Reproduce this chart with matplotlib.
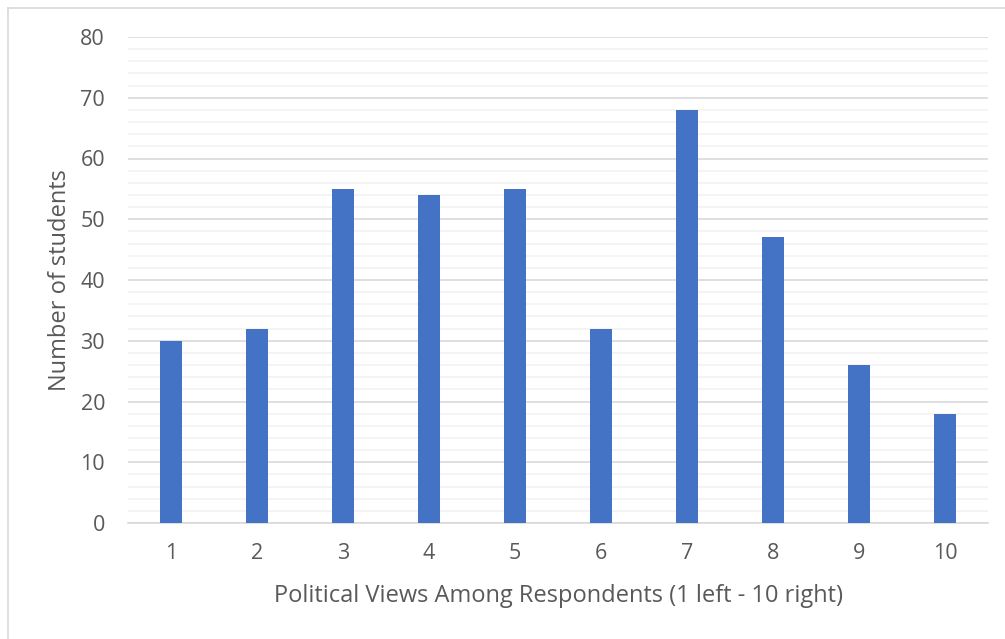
import matplotlib
matplotlib.use("Agg")
import matplotlib.pyplot as plt
from matplotlib.lines import Line2D
from matplotlib.ticker import MultipleLocator

categories = ["1", "2", "3", "4", "5", "6", "7", "8", "9", "10"]
values = [30, 32, 55, 54, 55, 32, 68, 47, 26, 18]
y_ticks = [0, 10, 20, 30, 40, 50, 60, 70, 80]
x_label = "Political Views Among Respondents (1 left - 10 right)"
y_label = "Number of students"

W, H = 1005, 639
fig = plt.figure(figsize=(W / 100, H / 100), dpi=100)
fig.patch.set_facecolor("white")
border = "#d9d9d9"
fig.lines.append(Line2D([7.5 / W, 7.5 / W], [0, 1 - 7.5 / H], transform=fig.transFigure,
                        color=border, linewidth=1.2))
fig.lines.append(Line2D([7.5 / W, 1], [1 - 7.5 / H, 1 - 7.5 / H], transform=fig.transFigure,
                        color=border, linewidth=1.2))

left, right, top, bottom = 128, 988, 37, 523
ax = fig.add_axes([left / W, 1 - bottom / H, (right - left) / W, (bottom - top) / H])

txt = "#595959"
font = "Open Sans"
x = list(range(len(categories)))
ax.bar(x, values, width=0.25, color="#4472c4", zorder=3)
ax.set_xlim(-0.5, len(categories) - 0.5)
ax.set_ylim(0, 80)
ax.set_yticks(y_ticks)
ax.yaxis.set_minor_locator(MultipleLocator(2))
ax.grid(axis="y", which="major", color="#d9d9d9", linewidth=1.2, zorder=0)
ax.grid(axis="y", which="minor", color="#f2f2f2", linewidth=1.2, zorder=0)
ax.set_xticks(x)
ax.set_xticklabels(categories)
for s in ["top", "right", "left"]:
    ax.spines[s].set_visible(False)
ax.spines["bottom"].set_color("#d9d9d9")
ax.spines["bottom"].set_linewidth(1.2)
ax.tick_params(axis="both", which="both", length=0, labelsize=15.5, colors=txt)
ax.tick_params(axis="x", pad=14.5)
ax.tick_params(axis="y", pad=16.5)
for lab in ax.get_xticklabels() + ax.get_yticklabels():
    lab.set_fontfamily(font)
ax.set_xlabel(x_label, fontsize=17, color=txt, fontfamily=font)
ax.set_ylabel(y_label, fontsize=17, color=txt, fontfamily=font)
ax.xaxis.set_label_coords(0.5, (bottom - 596) / (bottom - top))
ax.xaxis.label.set_va("center")
ax.yaxis.set_label_coords((60 - left) / (right - left), 0.5)
ax.yaxis.label.set_va("center")

fig.savefig("out.png", dpi=100)
